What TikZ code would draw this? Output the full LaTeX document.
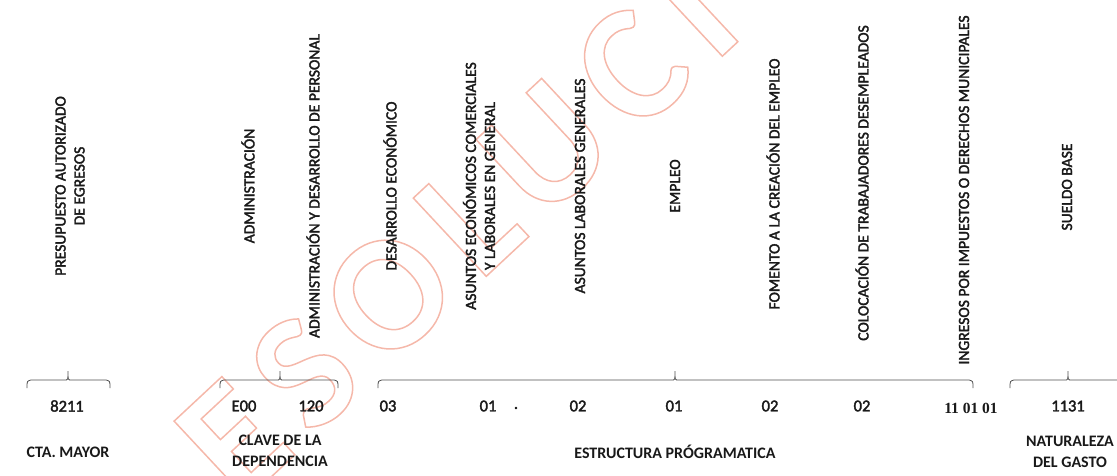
\documentclass[tikz,border=0pt]{standalone}
\usepackage{fontspec}
\setmainfont{Carlito}
\newfontfamily\wmfont[LetterSpace=12]{Carlito}
\newfontfamily\numserif{Liberation Serif}
\newcommand\heavyon{\special{pdf:literal direct 2 Tr 0.35 w}}
\newcommand\heavyoff{\special{pdf:literal direct 0 Tr}}
\definecolor{wm}{RGB}{245,184,170}
\definecolor{ink}{RGB}{25,25,25}
\definecolor{bracec}{RGB}{80,80,80}
\begin{document}
\begin{tikzpicture}[x=1pt,y=-1pt,
  vtext/.style={rotate=90, anchor=center, inner sep=0pt, align=center, text=ink,
                font=\fontsize{15.6}{19}\selectfont,
                execute at begin node=\heavyon, execute at end node=\heavyoff},
  num/.style={inner sep=0pt, text=ink, font=\fontsize{16.5}{20}\selectfont,
                execute at begin node=\heavyon, execute at end node=\heavyoff},
  lab/.style={inner sep=0pt, align=center, text=ink, font=\bfseries\fontsize{16}{21}\selectfont},
  bracepath/.style={draw=bracec, line width=0.8pt},
]
\useasboundingbox (0,0) rectangle (1117,476);
% watermark
\begin{scope}
\clip (0,0) rectangle (1117,476);
\node[rotate=43, anchor=base west, inner sep=0pt, text=wm, font=\wmfont\bfseries\fontsize{165}{165}\selectfont] (wmark) at (240,506)
  {\special{pdf:literal direct 1 Tr 1.5 w}ESOLUCIO\special{pdf:literal direct 0 Tr}};
\end{scope}

% vertical texts
\node[vtext] (t1) at (70,186) {PRESUPUESTO AUTORIZADO\\DE EGRESOS};
\node[vtext] (t2) at (248,186) {ADMINISTRACIÓN};
\node[vtext] (t3) at (313,186) {ADMINISTRACIÓN Y DESARROLLO DE PERSONAL};
\node[vtext] (t4) at (390,186) {DESARROLLO ECONÓMICO};
\node[vtext] (t5) at (479,186) {ASUNTOS ECONÓMICOS COMERCIALES\\Y LABORALES EN GENERAL};
\node[vtext] (t6) at (580,186) {ASUNTOS LABORALES GENERALES};
\node[vtext] (t7) at (675,186) {EMPLEO};
\node[vtext] (t8) at (773,184) {FOMENTO A LA CREACIÓN DEL EMPLEO};
\node[vtext] (t9) at (862,183) {COLOCACIÓN DE TRABAJADORES DESEMPLEADOS};
\node[vtext] (t10) at (964,190) {INGRESOS POR IMPUESTOS O DERECHOS MUNICIPALES};
\node[vtext] (t11) at (1067,187) {SUELDO BASE};

% braces
\draw[bracepath] (27,388) .. controls (27,381) .. (31,380) -- (65,380)
  .. controls (68,380) .. (68,371) .. controls (68,380) .. (71,380) -- (106,380)
  .. controls (110,381) .. (110,388);
\draw[bracepath] (220,388) .. controls (220,381) .. (224,380) -- (277,380)
  .. controls (280,380) .. (280,371) .. controls (280,380) .. (283,380) -- (334,380)
  .. controls (338,381) .. (338,388);
\draw[bracepath] (378,388) .. controls (378,381) .. (382,380) -- (672,380)
  .. controls (675,380) .. (675,371) .. controls (675,380) .. (678,380) -- (969,380)
  .. controls (973,381) .. (973,388);
\draw[bracepath] (1010,388) .. controls (1010,381) .. (1014,380) -- (1065,380)
  .. controls (1068,380) .. (1068,371) .. controls (1068,380) .. (1071,380) -- (1121,380)
  .. controls (1125,381) .. (1125,388);

% numbers
\node[num] (n1) at (67,406) {8211};
\node[num] (n2) at (244,406) {E00};
\node[num] (n3) at (311,406) {120};
\node[num] (n4) at (388,406) {03};
\node[num] (n5) at (488,406) {01};
\node[num] (n6) at (516,408) {.};
\node[num] (n7) at (578,406) {02};
\node[num] (n8) at (674,406) {01};
\node[num] (n9) at (770,406) {02};
\node[num] (n10) at (862,406) {02};
\node[inner sep=0pt, text=ink, font=\numserif\bfseries\fontsize{15.5}{18}\selectfont] (n11) at (971,408) {11 01 01};
\node[num] (n12) at (1068,406) {1131};

% labels
\node[lab] (l1) at (68,452) {CTA. MAYOR};
\node[lab] (l2) at (280,451) {CLAVE DE LA\\DEPENDENCIA};
\node[lab] (l3) at (675,452) {ESTRUCTURA PRÓGRAMATICA};
\node[lab] (l4) at (1070,452) {NATURALEZA\\DEL GASTO};
\end{tikzpicture}
\end{document}
